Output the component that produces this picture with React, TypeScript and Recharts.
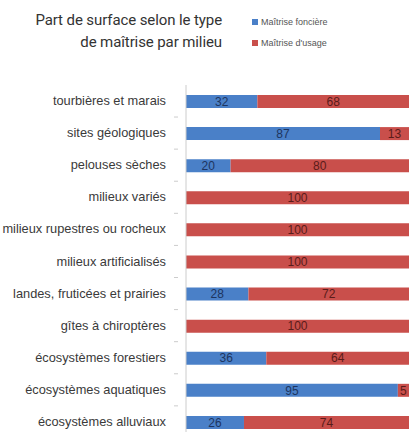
import React from 'react';
import { BarChart, Bar, XAxis, YAxis, LabelList } from 'recharts';

const milieux = [
  'tourbières et marais',
  'sites géologiques',
  'pelouses sèches',
  'milieux variés',
  'milieux rupestres ou rocheux',
  'milieux artificialisés',
  'landes, fruticées et prairies',
  'gîtes à chiroptères',
  'écosystèmes forestiers',
  'écosystèmes aquatiques',
  'écosystèmes alluviaux',
];
const fonciere = [32, 87, 20, 0, 0, 0, 28, 0, 36, 95, 26];
const usage = [68, 13, 80, 100, 100, 100, 72, 100, 64, 5, 74];

const titleLines = ['Part de surface selon le type', 'de maîtrise par milieu'];
const legendNames = ['Maîtrise foncière', "Maîtrise d'usage"];

const BLUE = '#4a80c8';
const RED = '#c94f4b';
const FONT = 'Liberation Sans, Arial, sans-serif';

const data = milieux.map((name, i) => ({ name, fonciere: fonciere[i], usage: usage[i] }));

const CategoryTick = (props: any) => {
  const { x, y, payload } = props;
  return (
    <g>
      <text x={x - 12} y={y} dy={4} textAnchor="end" fontSize={12.8} fill="#3a3a3a" fontFamily={FONT}>
        {payload.value}
      </text>
      <line x1={x - 4} x2={x} y1={y + 16} y2={y + 16} stroke="#ccc" />
    </g>
  );
};

const hideZero = (v: any) => (v ? v : '');

export default function App() {
  return (
    <div style={{ position: 'absolute', left: 0, top: 0, width: 409, height: 432, overflow: 'hidden', background: '#fff' }}>
      <div style={{ position: 'absolute', right: 409 - 222, top: 9, textAlign: 'right', fontFamily: 'Roboto, sans-serif', fontSize: 15, lineHeight: '22px', color: '#333', whiteSpace: 'nowrap', letterSpacing: -0.1 }}>
        {titleLines.map((t) => (
          <div key={t}>{t}</div>
        ))}
      </div>
      <div style={{ position: 'absolute', left: 252, top: 11, fontFamily: FONT, fontSize: 9, color: '#555' }}>
        {legendNames.map((n, i) => (
          <div key={n} style={{ display: 'flex', alignItems: 'center', height: 21 }}>
            <span style={{ width: 6, height: 6, background: i === 0 ? BLUE : RED, marginRight: 3 }} />
            {n}
          </div>
        ))}
      </div>
      <BarChart width={409} height={440} data={data} layout="vertical" margin={{ top: 85, right: 0, bottom: 2, left: 0 }} barSize={13}>
        <XAxis type="number" domain={[0, 100]} hide />
        <YAxis type="category" dataKey="name" width={186} axisLine={{ stroke: '#ccc' }} tickLine={false} tick={<CategoryTick />} interval={0} />
        <Bar dataKey="fonciere" stackId="a" fill={BLUE} isAnimationActive={false}>
          <LabelList dataKey="fonciere" position="center" fill="#1d3560" fontSize={12} fontFamily={FONT} formatter={hideZero} />
        </Bar>
        <Bar dataKey="usage" stackId="a" fill={RED} isAnimationActive={false}>
          <LabelList dataKey="usage" position="center" fill="#5a1c1a" fontSize={12} fontFamily={FONT} formatter={hideZero} />
        </Bar>
      </BarChart>
    </div>
  );
}
